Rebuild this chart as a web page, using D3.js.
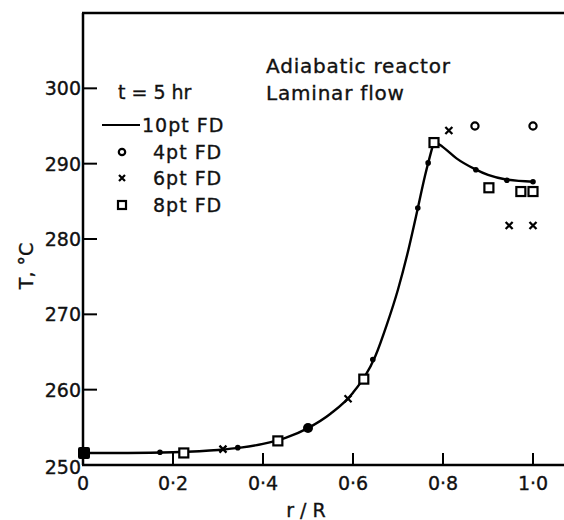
<!DOCTYPE html>
<html>
<head>
<meta charset="utf-8">
<script src="https://cdn.jsdelivr.net/npm/d3@7"></script>
<style>
    body { margin: 0; background: #fff; }
    text { font-family: "DejaVu Sans", sans-serif; fill: #111; stroke: #111; stroke-width: 0.35px; }
</style>
</head>
<body>
<div id="chart"></div>
<script>
// values: T (deg C) against r/R
var xTicks = [0, 0.2, 0.4, 0.6, 0.8, 1.0]
var xTickLabels = ['0', '0·2', '0·4', '0·6', '0·8', '1·0']
var yTicks = [250, 260, 270, 280, 290, 300]

// 10pt FD solid line, split at the peak so the cusp stays sharp
var lineRiseR = [0, 0.1, 0.2, 0.3, 0.35, 0.4, 0.45, 0.5, 0.55, 0.6, 0.65, 0.675, 0.7, 0.72, 0.74, 0.76, 0.78]
var lineRiseT = [251.6, 251.6, 251.7, 252.0, 252.3, 252.8, 253.6, 254.9, 256.8, 259.6, 264.5, 268.6, 273.3, 277.8, 283.0, 288.4, 293.0]
var lineFallR = [0.78, 0.8, 0.83, 0.87, 0.9, 0.94, 1.0]
var lineFallT = [293.0, 292.2, 290.7, 289.3, 288.5, 287.9, 287.6]

// small dots sitting on the 10pt curve
var dotR = [0.171, 0.344, 0.644, 0.744, 0.767, 0.873, 0.942, 1.0]
var dotT = [251.7, 252.3, 264.0, 284.1, 290.1, 289.2, 287.8, 287.6]

// spots where every scheme coincides (drawn filled)
var sharedR = [0, 0.5]
var sharedT = [251.6, 254.9]

var circleR = [0.871, 1.0]
var circleT = [295.0, 295.0]

var crossR = [0.311, 0.589, 0.813, 0.947, 1.0]
var crossT = [252.1, 258.8, 294.4, 281.8, 281.8]

var squareR = [0.224, 0.433, 0.624, 0.78, 0.902, 0.973, 1.0]
var squareT = [251.6, 253.2, 261.4, 292.8, 286.8, 286.3, 286.3]

var legendLabels = ['10pt FD', '4pt FD', '6pt FD', '8pt FD']

var width = 564
var height = 520

var x = d3.scaleLinear().domain([0, 1]).range([83, 533])
var y = d3.scaleLinear().domain([250, 310]).range([465, 13])

var svg = d3.select('#chart')
    .append('svg')
    .attr('width', width)
    .attr('height', height)

// frame: left axis, top and bottom lines (no right side)
svg.append('line')
    .attr('x1', x(0)).attr('x2', x(0))
    .attr('y1', y(310)).attr('y2', y(250))
    .attr('stroke', '#000').attr('stroke-width', 2.5)
svg.append('line')
    .attr('x1', x(0) - 1).attr('x2', width)
    .attr('y1', y(310)).attr('y2', y(310))
    .attr('stroke', '#000').attr('stroke-width', 2.5)
svg.append('line')
    .attr('x1', x(0) - 1).attr('x2', width)
    .attr('y1', y(250)).attr('y2', y(250))
    .attr('stroke', '#000').attr('stroke-width', 2.5)

// y ticks point inward
svg.selectAll('.ytick')
    .data(yTicks.slice(1))
    .enter()
    .append('line')
    .attr('x1', x(0)).attr('x2', x(0) + 14)
    .attr('y1', function (d) { return y(d) }).attr('y2', function (d) { return y(d) })
    .attr('stroke', '#000').attr('stroke-width', 2)

svg.selectAll('.ylabel')
    .data(yTicks)
    .enter()
    .append('text')
    .attr('x', x(0) - 2)
    .attr('y', function (d) { return y(d) + 7 + (d == 250 ? 2 : 0) })
    .attr('text-anchor', 'end')
    .style('font-size', '19px')
    .text(function (d) { return d })

// x ticks point up
svg.selectAll('.xtick')
    .data(xTicks.slice(1))
    .enter()
    .append('line')
    .attr('x1', function (d) { return x(d) }).attr('x2', function (d) { return x(d) })
    .attr('y1', y(250)).attr('y2', y(250) - 12)
    .attr('stroke', '#000').attr('stroke-width', 2)

svg.selectAll('.xlabel')
    .data(xTicks)
    .enter()
    .append('text')
    .attr('x', function (d) { return x(d) })
    .attr('y', 490)
    .attr('text-anchor', 'middle')
    .style('font-size', '19px')
    .text(function (d, i) { return xTickLabels[i] })

svg.append('text')
    .attr('x', 306).attr('y', 517)
    .attr('text-anchor', 'middle')
    .style('font-size', '19px')
    .text('r / R')

svg.append('text')
    .attr('transform', 'translate(33,266) rotate(-90)')
    .attr('text-anchor', 'middle')
    .style('font-size', '19px')
    .text('T, °C')

// 10pt FD curve
var line = d3.line()
    .x(function (d) { return x(d[0]) })
    .y(function (d) { return y(d[1]) })
    .curve(d3.curveMonotoneX)

svg.append('path')
    .datum(d3.zip(lineRiseR, lineRiseT))
    .attr('d', line)
    .attr('fill', 'none').attr('stroke', '#000').attr('stroke-width', 2.4)
svg.append('path')
    .datum(d3.zip(lineFallR, lineFallT))
    .attr('d', line)
    .attr('fill', 'none').attr('stroke', '#000').attr('stroke-width', 2.4)

svg.selectAll('.dot')
    .data(d3.zip(dotR, dotT))
    .enter()
    .append('circle')
    .attr('cx', function (d) { return x(d[0]) })
    .attr('cy', function (d) { return y(d[1]) })
    .attr('r', 2.8)
    .attr('fill', '#000')

// coincident points: filled blob at origin, filled dot at 0.5
svg.append('rect')
    .attr('x', x(sharedR[0]) - 5).attr('y', y(sharedT[0]) - 6)
    .attr('width', 12).attr('height', 12).attr('rx', 2)
    .attr('fill', '#000')
svg.append('circle')
    .attr('cx', x(sharedR[1])).attr('cy', y(sharedT[1]))
    .attr('r', 5)
    .attr('fill', '#000')

// 4pt FD circles
svg.selectAll('.c4')
    .data(d3.zip(circleR, circleT))
    .enter()
    .append('circle')
    .attr('cx', function (d) { return x(d[0]) })
    .attr('cy', function (d) { return y(d[1]) })
    .attr('r', 3.6)
    .attr('fill', 'none').attr('stroke', '#000').attr('stroke-width', 2.2)

// 6pt FD crosses
function crossPath(s) {
    return 'M' + (-s) + ',' + (-s) + 'L' + s + ',' + s + 'M' + (-s) + ',' + s + 'L' + s + ',' + (-s)
}
svg.selectAll('.c6')
    .data(d3.zip(crossR, crossT))
    .enter()
    .append('path')
    .attr('d', crossPath(3.5))
    .attr('transform', function (d) { return 'translate(' + x(d[0]) + ',' + y(d[1]) + ')' })
    .attr('fill', 'none').attr('stroke', '#000').attr('stroke-width', 2.3)

// 8pt FD squares
svg.selectAll('.c8')
    .data(d3.zip(squareR, squareT))
    .enter()
    .append('rect')
    .attr('x', function (d) { return x(d[0]) - 4.5 })
    .attr('y', function (d) { return y(d[1]) - 4.5 })
    .attr('width', 9).attr('height', 9)
    .attr('fill', '#fff').attr('stroke', '#000').attr('stroke-width', 2.2)

// annotations
svg.append('text').attr('x', 266).attr('y', 73).style('font-size', '20px').style('letter-spacing', '0.8px').text('Adiabatic reactor')
svg.append('text').attr('x', 266).attr('y', 100).style('font-size', '20px').style('letter-spacing', '0.8px').text('Laminar flow')
svg.append('text').attr('x', 118).attr('y', 99).style('font-size', '19px').text('t = 5 hr')

// legend
var legendY = [125, 152, 178, 205]
svg.append('line')
    .attr('x1', 102).attr('x2', 140)
    .attr('y1', legendY[0]).attr('y2', legendY[0])
    .attr('stroke', '#000').attr('stroke-width', 2)
svg.append('circle')
    .attr('cx', 122).attr('cy', legendY[1]).attr('r', 3.2)
    .attr('fill', 'none').attr('stroke', '#000').attr('stroke-width', 2.2)
svg.append('path')
    .attr('d', crossPath(3))
    .attr('transform', 'translate(122,' + legendY[2] + ')')
    .attr('fill', 'none').attr('stroke', '#000').attr('stroke-width', 2.2)
svg.append('rect')
    .attr('x', 118).attr('y', legendY[3] - 4).attr('width', 8).attr('height', 8)
    .attr('fill', 'none').attr('stroke', '#000').attr('stroke-width', 2.2)

svg.selectAll('.legtext')
    .data(legendLabels)
    .enter()
    .append('text')
    .attr('x', function (d, i) { return i == 0 ? 142 : 153 })
    .attr('y', function (d, i) { return legendY[i] + 7 })
    .style('font-size', '19px')
    .style('letter-spacing', '1px')
    .text(function (d) { return d })
</script>
</body>
</html>
